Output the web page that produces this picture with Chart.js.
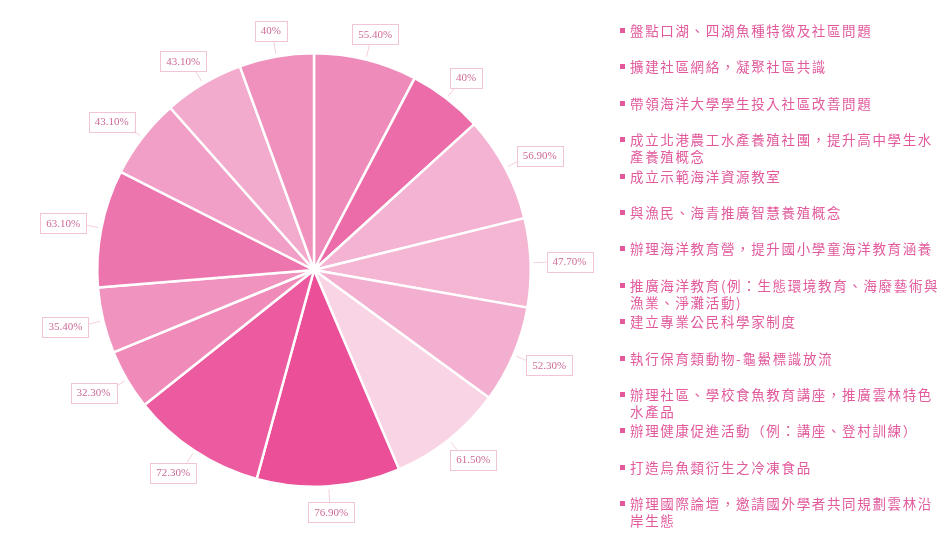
<!DOCTYPE html>
<html>
<head>
<meta charset="utf-8">
<script src="https://cdn.jsdelivr.net/npm/chart.js@4.4.0/dist/chart.umd.min.js"></script>
<style>
  html,body{margin:0;padding:0;background:#fff;}
  #wrap{position:relative;width:945px;height:536px;overflow:hidden;}
  #c{position:absolute;left:0;top:0;}
  #legend{position:absolute;left:618px;top:22px;width:327px;font-family:"Noto Sans CJK TC","Noto Sans",sans-serif;font-size:13.5px;letter-spacing:1.65px;color:#e2599c;}
  .item{position:relative;height:36.4px;line-height:17px;padding-left:12px;white-space:pre;}
  .item .dot{position:absolute;left:2px;top:6px;width:5px;height:5px;background:#e2599c;}
</style>
</head>
<body>
<div id="wrap">
  <canvas id="c" width="945" height="536"></canvas>
  <div id="legend"></div>
</div>
<script>
const categories = [
  "盤點口湖、四湖魚種特徵及社區問題",
  "擴建社區網絡，凝聚社區共識",
  "帶領海洋大學學生投入社區改善問題",
  "成立北港農工水產養殖社團，提升高中學生水\n產養殖概念",
  "成立示範海洋資源教室",
  "與漁民、海青推廣智慧養殖概念",
  "辦理海洋教育營，提升國小學童海洋教育涵養",
  "推廣海洋教育(例：生態環境教育、海廢藝術與\n漁業、淨灘活動)",
  "建立專業公民科學家制度",
  "執行保育類動物-龜鱟標識放流",
  "辦理社區、學校食魚教育講座，推廣雲林特色\n水產品",
  "辦理健康促進活動（例：講座、登村訓練）",
  "打造烏魚類衍生之冷凍食品",
  "辦理國際論壇，邀請國外學者共同規劃雲林沿\n岸生態"
];
const values = [55.4, 40, 56.9, 47.7, 52.3, 61.5, 76.9, 72.3, 32.3, 35.4, 63.1, 43.1, 43.1, 40];
const valueLabels = ["55.40%","40%","56.90%","47.70%","52.30%","61.50%","76.90%","72.30%","32.30%","35.40%","63.10%","43.10%","43.10%","40%"];
const colors = ["#ef8bbb","#eb6ca8","#f4b3d2","#f4b6d3","#f3afcf","#f9d4e5","#ea4f97","#ec5a9f","#ef8ab9","#f094bf","#ed75ae","#f19fc6","#f3abcd","#ef90bd"];

const leg = document.getElementById('legend');
categories.forEach((t, i) => {
  const d = document.createElement('div');
  d.className = 'item';
  const dot = document.createElement('span');
  dot.className = 'dot';
  d.appendChild(dot);
  d.appendChild(document.createTextNode(t));
  leg.appendChild(d);
});

const labelPlugin = {
  id: 'boxLabels',
  afterDatasetsDraw(chart) {
    const ctx = chart.ctx;
    const meta = chart.getDatasetMeta(0);
    ctx.save();
    ctx.font = '11px "Liberation Serif", "DejaVu Serif", serif';
    ctx.textAlign = 'center';
    ctx.textBaseline = 'middle';
    meta.data.forEach((arc, i) => {
      const p = arc.getProps(['x','y','startAngle','endAngle','outerRadius']);
      const mid = (p.startAngle + p.endAngle) / 2;
      const cx = Math.cos(mid), sy = Math.sin(mid);
      const txt = valueLabels[i];
      const w = ctx.measureText(txt).width + 12;
      const h = 20;
      const ar = p.outerRadius + 16;
      const ax = p.x + cx * ar, ay = p.y + sy * ar;
      const bx = ax + cx * w / 2, by = ay + sy * h / 2;
      ctx.strokeStyle = 'rgba(240,185,210,0.7)';
      ctx.lineWidth = 1;
      ctx.beginPath();
      ctx.moveTo(p.x + cx * (p.outerRadius + 3), p.y + sy * (p.outerRadius + 3));
      ctx.lineTo(ax, ay);
      ctx.stroke();
      ctx.fillStyle = '#fff';
      ctx.fillRect(bx - w/2, by - h/2, w, h);
      ctx.strokeStyle = '#f2c4d8';
      ctx.strokeRect(Math.round(bx - w/2) + 0.5, Math.round(by - h/2) + 0.5, Math.round(w), h);
      ctx.fillStyle = '#cc6a98';
      ctx.fillText(txt, bx, by + 0.5);
    });
    ctx.restore();
  }
};

new Chart(document.getElementById('c'), {
  type: 'pie',
  data: {
    labels: categories,
    datasets: [{
      data: values,
      backgroundColor: colors,
      borderColor: '#ffffff',
      borderWidth: 2.5
    }]
  },
  options: {
    responsive: false,
    animation: false,
    layout: { padding: { left: 96, right: 413, top: 52, bottom: 48 } },
    plugins: { legend: { display: false }, tooltip: { enabled: false } }
  },
  plugins: [labelPlugin]
});
</script>
</body>
</html>
